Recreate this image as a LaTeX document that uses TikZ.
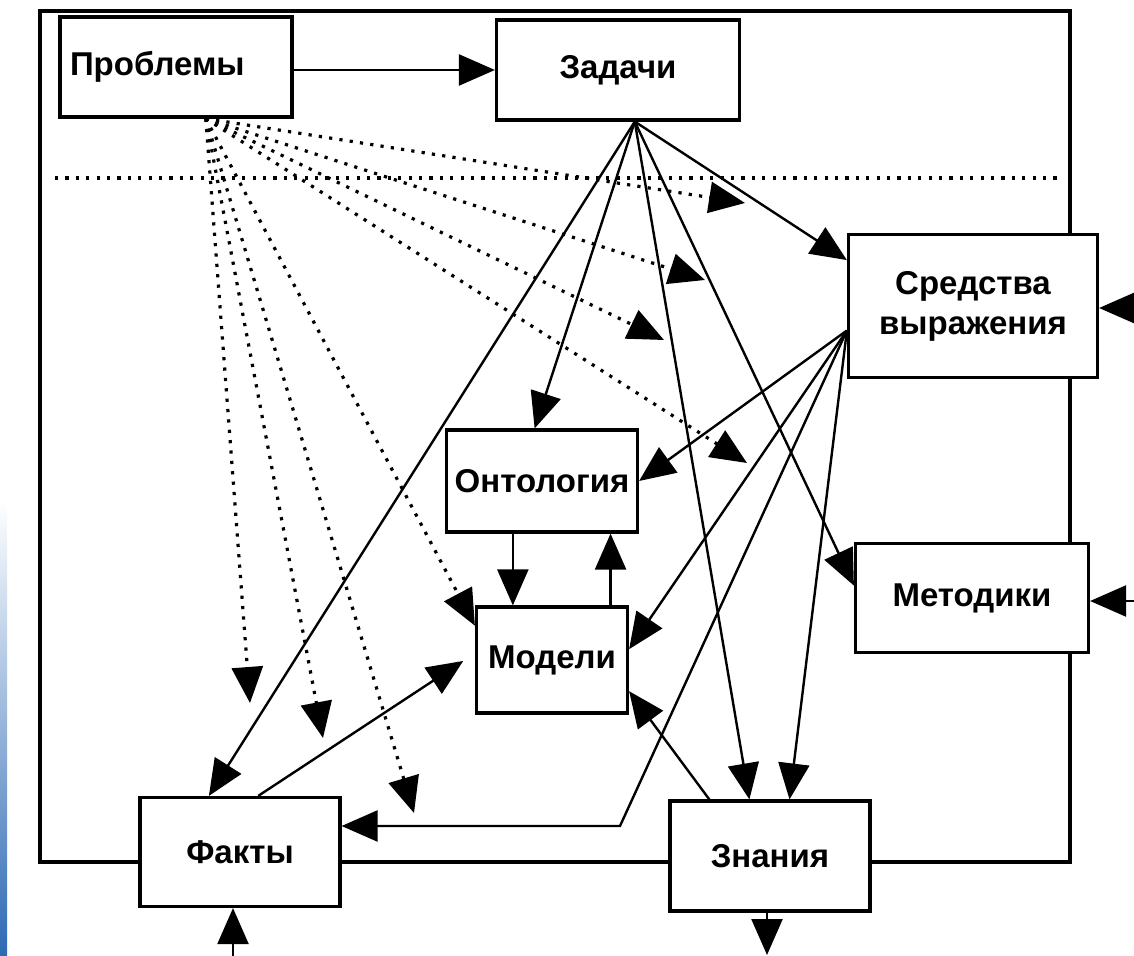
\documentclass[tikz,border=0pt]{standalone}
\usepackage{fontspec}
\setmainfont{Liberation Sans}
\usetikzlibrary{arrows.meta}

\definecolor{strip}{RGB}{45,105,180}

\tikzset{
    blk/.style={draw, line width=1.6pt, fill=white, inner sep=2pt, align=center,
        font=\bfseries\fontsize{16.5}{20}\selectfont},
    arr/.style={line width=1.2pt, -{Triangle[length=18pt, width=15.5pt]}},
    dots/.style={line width=1.6pt, dash pattern=on 1.6pt off 3.6pt},
}

\begin{document}
\begin{tikzpicture}[x=0.5pt, y=-0.5pt]
    \useasboundingbox (0, 0) rectangle (1134, 956);
    \shade[top color=white, bottom color=strip] (0, 500) rectangle (7, 956);

    \draw[line width=1.6pt] (40, 11) rectangle (1070, 862);

    \coordinate (hl) at (55, 178);
    \coordinate (hr) at (1062, 178);
    \draw[dots] (hl) -- (hr);

    \node[blk, text width=106pt, align=left, inner xsep=5pt, minimum height=50pt] (prob) at (176, 67) {Проблемы};
    \node[blk, minimum width=121.5pt, minimum height=50pt] (zad) at (618, 70) {Задачи};
    \node[blk, minimum width=124.5pt, minimum height=71.5pt] (sred) at (973, 306) {Средства\\выражения};
    \node[blk, minimum width=95.5pt, minimum height=51pt] (ont) at (542, 481) {Онтология};
    \node[blk, minimum width=75.5pt, minimum height=53pt] (mod) at (552, 660) {Модели};
    \node[blk, minimum width=116.5pt, minimum height=54.5pt] (met) at (972, 598) {Методики};
    \node[blk, minimum width=100pt, minimum height=54.5pt] (fak) at (240, 852) {Факты};
    \node[blk, minimum width=100pt, minimum height=55pt] (zna) at (770, 856) {Знания};

    \draw[arr] (prob.east |- zad.west) -- (zad.west);

    \draw[arr] (zad.288) -- (sred.160);
    \draw[arr] (zad.288) -- (ont.98);
    \draw[arr] (zad.288) -- (fak.119);
    \draw[arr] (zad.288) -- (zna.110);
    \draw[arr] (zad.288) -- (met.174);

    \coordinate (kink) at (620, 826);
    \draw[arr] (sred.191) -- (ont.east);
    \draw[arr] (sred.191) -- (mod.8);
    \draw[arr] (sred.191) -- (zna.71);
    \draw[arr] (sred.191) -- (kink) -- (fak.east |- kink);

    \draw[arr] (ont.241) -- (ont.241 |- mod.north);
    \draw[arr] (mod.43) -- (mod.43 |- ont.south);
    \draw[arr, shorten >=7pt] (fak.72) -- (mod.175);
    \draw[arr] (zna.137) -- (mod.338);

    \coordinate (d1) at (745, 203);
    \coordinate (d2) at (705, 280);
    \coordinate (d3) at (664, 340);
    \coordinate (d4) at (747, 463);
    \coordinate (d5) at (250, 703);
    \coordinate (d6) at (323, 738);
    \coordinate (d7) at (414, 813);
    \foreach \t in {d1, d2, d3, d4, d5, d6, d7}
        \draw[arr, dots] (prob.300) -- (\t);
    \draw[arr, dots] (prob.300) -- (mod.156);

    \coordinate (esred) at (1134, 308);
    \coordinate (emet) at (1134, 601);
    \coordinate (efak) at (233, 956);
    \coordinate (ezna) at (767, 955);
    \draw[arr] (esred) -- (esred -| sred.east);
    \draw[arr] (emet) -- (emet -| met.east);
    \draw[arr] (efak) -- (efak |- fak.south);
    \draw[arr] (ezna |- zna.south) -- (ezna);
\end{tikzpicture}
\end{document}
